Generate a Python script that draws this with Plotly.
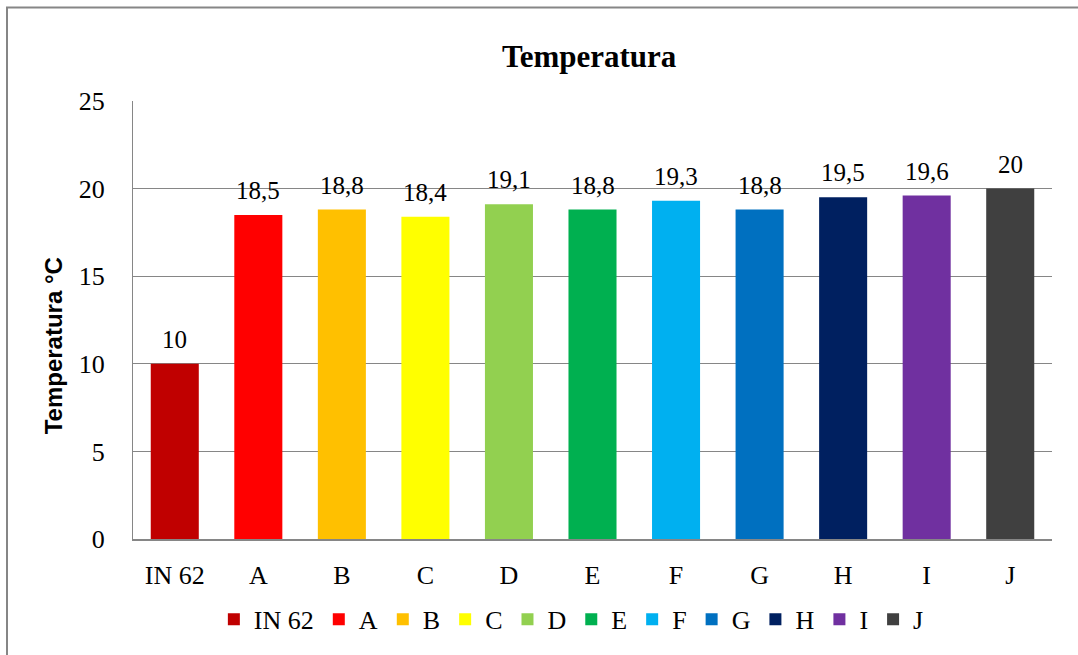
import plotly.graph_objects as go

categories = ["IN 62", "A", "B", "C", "D", "E", "F", "G", "H", "I", "J"]
temperatures = [10, 18.5, 18.8, 18.4, 19.1, 18.8, 19.3, 18.8, 19.5, 19.6, 20]
colors = ["#C00000", "#FF0000", "#FFC000", "#FFFF00", "#92D050", "#00B050",
          "#00B0F0", "#0070C0", "#002060", "#7030A0", "#404040"]
y_ticks = [0, 5, 10, 15, 20, 25]


def fmt(v):
    # decimal comma, no trailing zeros
    return ("%g" % v).replace(".", ",")


serif = "Liberation Serif, Times New Roman, serif"

fig = go.Figure()
for cat, val, col in zip(categories, temperatures, colors):
    fig.add_trace(go.Bar(
        x=[cat], y=[val], name=cat,
        marker=dict(color=col, line=dict(width=0)),
        width=0.575,
    ))
    # value label above each bar
    fig.add_annotation(
        x=cat, y=val, text=fmt(val), showarrow=False,
        xanchor="center", yanchor="bottom", yshift=9,
        font=dict(family=serif, size=25, color="#000000"),
    )

# vertical axis title, placed a little below the axis middle
fig.add_annotation(
    xref="paper", yref="paper", x=-0.087, y=0.44,
    text="<b>Temperatura °C</b>", textangle=-90, showarrow=False,
    xanchor="center", yanchor="middle",
    font=dict(family="Liberation Sans, Arial, sans-serif", size=24,
              color="#000000"),
)

fig.update_layout(
    width=1078, height=655,
    margin=dict(l=133, r=26, t=101, b=114),
    paper_bgcolor="white", plot_bgcolor="white",
    barmode="overlay",
    showlegend=True,
    title=dict(text="<b>Temperatura</b>", x=0.5465, xanchor="center",
               y=0.915, yanchor="middle",
               font=dict(family=serif, size=31, color="#000000")),
    legend=dict(orientation="h", x=0.477, xanchor="center", y=-0.13,
                yanchor="top", traceorder="normal",
                font=dict(family=serif, size=26, color="#000000"),
                itemwidth=30),
    xaxis=dict(
        categoryorder="array", categoryarray=categories,
        showgrid=False, showline=True, linecolor="#868686", linewidth=2,
        ticks="", tickfont=dict(family=serif, size=26, color="#000000"),
        ticklabelstandoff=12,
    ),
    yaxis=dict(
        range=[0, 25], tickvals=y_ticks,
        showgrid=True, gridcolor="#868686", gridwidth=1,
        showline=True, linecolor="#868686", linewidth=1,
        zeroline=False,
        ticks="", tickfont=dict(family=serif, size=26, color="#000000"),
        ticklabelstandoff=22,
    ),
)

# outer chart frame
fig.add_shape(type="rect", xref="paper", yref="paper",
              x0=(7 - 133) / 919, x1=1.2, y0=-0.5, y1=1 + (101 - 7) / 440,
              line=dict(color="#868686", width=2), fillcolor="rgba(0,0,0,0)",
              layer="below")

fig.write_html("out.html")
